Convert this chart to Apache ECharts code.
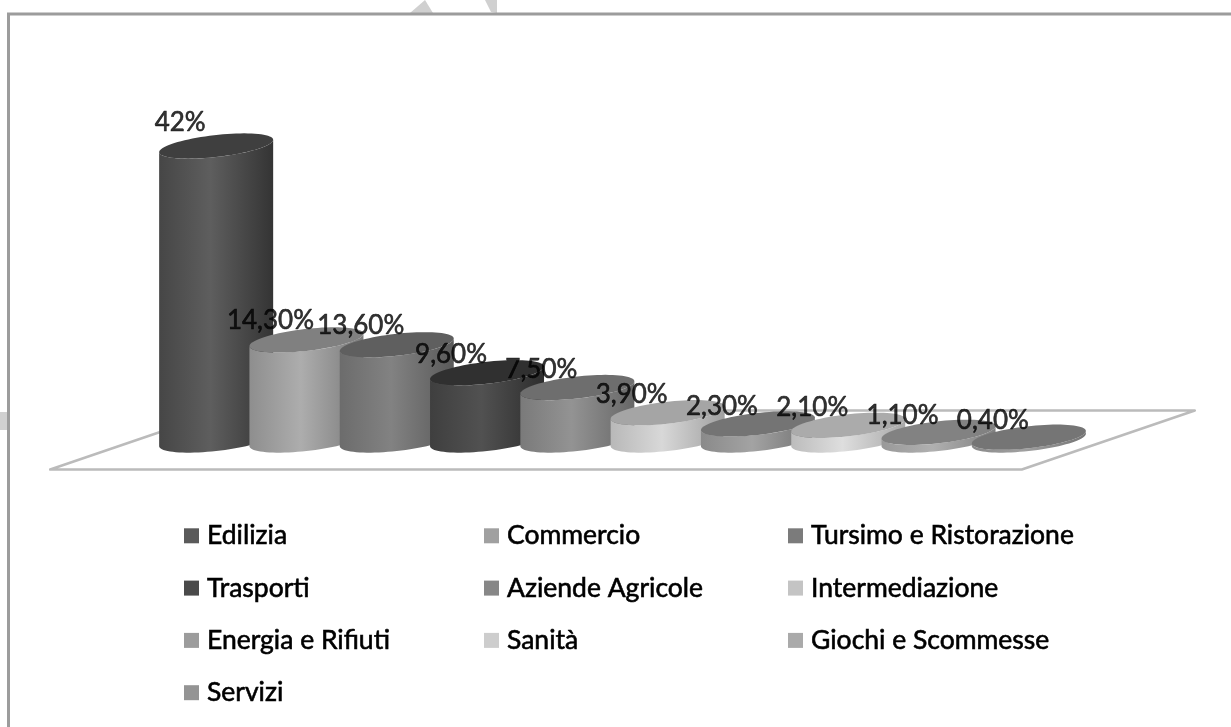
<!DOCTYPE html>
<html>
<head>
<meta charset="utf-8">
<style>html,body{margin:0;padding:0;background:#fff}#c{width:1231px;height:727px;filter:blur(0.5px)}</style>
<script src="https://cdn.jsdelivr.net/npm/echarts@6/dist/echarts.min.js"></script>
</head>
<body>
<div id="c"></div>
<script>
const categories = ['Edilizia','Commercio','Tursimo e Ristorazione','Trasporti','Aziende Agricole','Intermediazione','Energia e Rifiuti','Sanità','Giochi e Scommesse','Servizi'];
const values = [42,14.3,13.6,9.6,7.5,3.9,2.3,2.1,1.1,0.4];
const valueLabels = ['42%','14,30%','13,60%','9,60%','7,50%','3,90%','2,30%','2,10%','1,10%','0,40%'];
const legendColors = ['#5a5a5a','#a0a0a0','#7b7b7b','#4a4a4a','#878787','#c4c4c4','#9c9c9c','#cdcdcd','#aaaaaa','#949494'];
const sideLeft = ['#464646','#8e8e8e','#6c6c6c','#3f3f3f','#7a7a7a','#b8b8b8','#8a8a8a','#bcbcbc','#999999','#8a8a8a'];
const sideMid = ['#5e5e5e','#adadad','#828282','#515151','#939393','#d8d8d8','#a3a3a3','#dedede','#b0b0b0','#a0a0a0'];
const sideRight = ['#343434','#7a7a7a','#5a5a5a','#2d2d2d','#676767','#a0a0a0','#707070','#a8a8a8','#808080','#757575'];
const topColors = ['#3f3f3f','#808080','#5f5f5f','#303030','#6e6e6e','#a5a5a5','#747474','#ababab','#828282','#757575'];
const legendColumns = [[0,3,6,9],[1,4,7],[2,5,8]];

const chart = echarts.init(document.getElementById('c'), null, {renderer:'canvas'});

const RK = 0.55, VXK = 0.31, VYK = 0.14;
function ringPoints(c, band, from, to, steps) {
  const R = band*RK, vx = band*VXK, vy = -band*VYK, pts = [];
  for (let k=0;k<=steps;k++){
    const t = from + (to-from)*k/steps;
    pts.push([c[0]+R*Math.cos(t)+vx*Math.sin(t), c[1]+vy*Math.sin(t)]);
  }
  return pts;
}
function cylinder(i){
  return function(params, api){
    const band = api.size([1,0])[0];
    const base = api.coord([api.value(0),0]);
    const top = api.coord([api.value(0),api.value(1)]);
    const t0 = Math.atan2(VXK,RK);
    const lower = ringPoints(base,band,t0,t0-Math.PI,40);
    const upper = ringPoints(top,band,t0-Math.PI,t0,40);
    const whole = ringPoints(top,band,0,Math.PI*2,80);
    return {type:'group',children:[
      {type:'polygon',shape:{points:lower.concat(upper)},style:{
        fill:new echarts.graphic.LinearGradient(0,0,1,0,[
          {offset:0,color:sideLeft[i]},{offset:0.45,color:sideMid[i]},{offset:1,color:sideRight[i]}])}},
      {type:'polygon',shape:{points:whole},style:{fill:topColors[i]}}
    ]};
  };
}
function floor(params, api){
  const band = api.size([1,0])[0];
  const a = api.coord([0,0]), b = api.coord([categories.length-1,0]);
  const cx = (a[0]+b[0])/2, cy = a[1];
  const hw = band*5.38, dx = band*0.958, dy = band*0.327;
  return {type:'polygon',shape:{points:[
    [cx-hw-dx,cy+dy],[cx+hw-dx,cy+dy],[cx+hw+dx,cy-dy],[cx-hw+dx,cy-dy]]},
    style:{fill:'#ffffff',stroke:'#bbbbbb',lineWidth:2.5,lineJoin:'round'}};
}

const series = [{type:'custom',name:'Piano',silent:true,z:1,renderItem:floor,data:[[0,0]],encode:{x:0,y:1}}];
categories.forEach((name,i)=>{
  series.push({type:'custom',name:name,z:2+i,silent:true,renderItem:cylinder(i),
    itemStyle:{color:legendColors[i]},data:[[i,values[i]]],encode:{x:0,y:1}});
});
series.push({type:'scatter',name:'Etichette',z:30,silent:true,symbolSize:0,yAxisIndex:1,
  data:values.map((v,i)=>[i,v]),
  label:{show:true,position:'inside',offset:[-36,-17],fontFamily:'Lato',fontSize:26,color:'#000',
    textBorderColor:'#000',textBorderWidth:0.6,
    formatter:p=>valueLabels[p.dataIndex]}});

const legendLefts = [184,484,788];
chart.setOption({
  animation:false,
  backgroundColor:'#fff',
  grid:{left:171,width:903,top:90,height:350},
  xAxis:{type:'category',data:categories,show:false},
  yAxis:[{type:'value',min:0,max:50,show:false},{type:'value',min:0,max:48.9,show:false}],
  legend:legendColumns.map((col,k)=>({
    orient:'vertical',left:legendLefts[k],top:522,padding:0,icon:'rect',
    itemWidth:15,itemHeight:15,itemGap:24.7,selectedMode:false,
    textStyle:{fontFamily:'Lato',fontSize:26.5,lineHeight:24,color:'#000',padding:[0,0,0,3],
      textBorderColor:'#000',textBorderWidth:0.6},
    data:col.map(i=>categories[i])
  })),
  graphic:[
    {type:'polyline',silent:true,z:0,shape:{points:[[8.5,727],[8.5,14],[1231,14]]},style:{fill:null,stroke:'#9c9c9c',lineWidth:3}},
    {type:'polygon',silent:true,z:-1,shape:{points:[[410,13],[425,0],[433,13]]},style:{fill:'#d0d0d0'}},
    {type:'polygon',silent:true,z:-1,shape:{points:[[485,0],[497,0],[497,13],[491,12]]},style:{fill:'#d0d0d0'}},
    {type:'rect',silent:true,z:-1,shape:{x:0,y:412,width:8,height:18},style:{fill:'#d0d0d0'}}
  ],
  series:series
});
</script>
</body>
</html>
